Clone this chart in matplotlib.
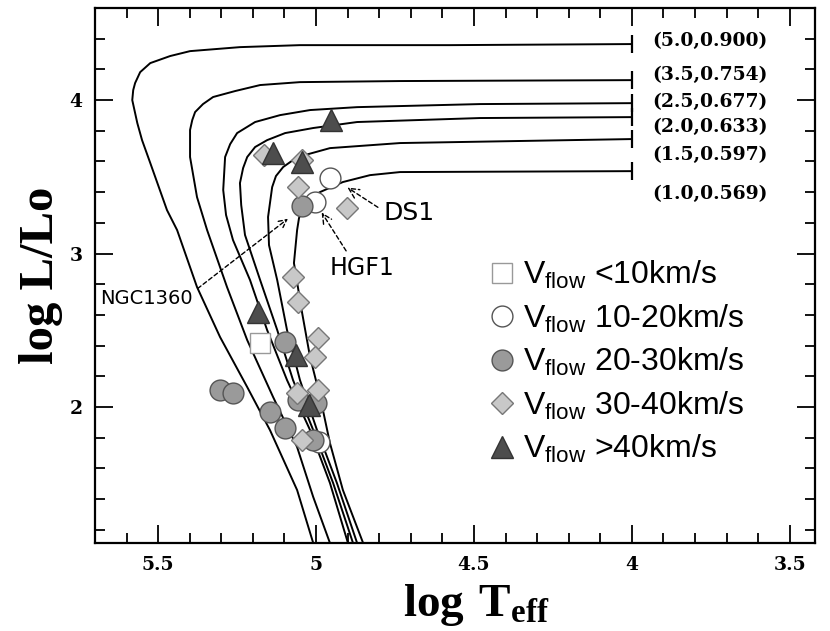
import matplotlib
matplotlib.use("Agg")
import matplotlib.pyplot as plt
from matplotlib.ticker import MultipleLocator

plt.rcParams['mathtext.fontset'] = 'custom'
plt.rcParams['mathtext.rm'] = 'Liberation Sans'
plt.rcParams['mathtext.bf'] = 'Liberation Serif:bold'

# evolutionary tracks (M_initial, M_core): log Teff, log L
track_names = ["(5.0,0.900)", "(3.5,0.754)", "(2.5,0.677)",
               "(2.0,0.633)", "(1.5,0.597)", "(1.0,0.569)"]
track_label_y = [4.384, 4.163, 3.987, 3.824, 3.642, 3.388]

t50_T = [4.00, 4.576, 5.051, 5.241, 5.399, 5.462, 5.525, 5.557, 5.573, 5.579, 5.582,
         5.566, 5.551, 5.525, 5.472, 5.440, 5.377, 5.304, 5.218, 5.146, 5.060, 5.009]
t50_L = [4.365, 4.358, 4.358, 4.345, 4.319, 4.287, 4.241, 4.182, 4.111, 4.065, 4.000,
         3.850, 3.739, 3.590, 3.283, 3.153, 2.782, 2.456, 2.130, 1.850, 1.459, 1.114]

t35_T = [4.00, 4.734, 5.051, 5.177, 5.256, 5.326, 5.358, 5.383, 5.392, 5.399, 5.399,
         5.377, 5.345, 5.282, 5.218, 5.136, 5.060, 5.009, 4.956]
t35_L = [4.130, 4.124, 4.117, 4.098, 4.059, 4.020, 3.974, 3.922, 3.870, 3.805, 3.629,
         3.368, 3.153, 2.782, 2.436, 2.065, 1.739, 1.414, 1.114]

t25_T = [4.00, 4.481, 4.870, 5.019, 5.114, 5.193, 5.250, 5.272, 5.288, 5.294, 5.285,
         5.263, 5.209, 5.155, 5.092, 5.019, 4.956, 4.899]
t25_L = [3.980, 3.974, 3.954, 3.935, 3.902, 3.857, 3.785, 3.713, 3.629, 3.414, 3.251,
         3.088, 2.827, 2.502, 2.176, 1.850, 1.505, 1.114]

t20_T = [4.00, 4.481, 4.870, 5.009, 5.098, 5.155, 5.193, 5.218, 5.231, 5.241, 5.237,
         5.225, 5.177, 5.123, 5.073, 5.009, 4.946, 4.883]
t20_L = [3.889, 3.883, 3.857, 3.818, 3.785, 3.739, 3.694, 3.629, 3.557, 3.459, 3.316,
         3.121, 2.827, 2.502, 2.176, 1.850, 1.505, 1.114]

t15_T = [4.00, 4.734, 4.956, 5.035, 5.073, 5.104, 5.127, 5.139, 5.152, 5.149, 5.123,
         5.092, 5.051, 4.997, 4.934, 4.870]
t15_L = [3.746, 3.720, 3.687, 3.642, 3.609, 3.564, 3.505, 3.433, 3.238, 3.055, 2.827,
         2.502, 2.176, 1.850, 1.505, 1.114]

t10_T = [4.00, 4.734, 4.829, 4.915, 4.987, 5.019, 5.041, 5.054, 5.060, 5.070, 5.044,
         5.019, 4.987, 4.956, 4.915, 4.851]
t10_L = [3.537, 3.531, 3.511, 3.466, 3.401, 3.362, 3.303, 3.231, 3.153, 2.938, 2.612,
         2.326, 2.065, 1.765, 1.459, 1.114]

tracks_T = [t50_T, t35_T, t25_T, t20_T, t15_T, t10_T]
tracks_L = [t50_L, t35_L, t25_L, t20_L, t15_L, t10_L]

# central stars grouped by outflow velocity
v10_T = [5.177]
v10_L = [2.417]
v20_T = [4.956, 5.003, 4.990]
v20_L = [3.492, 3.336, 1.770]
v30_T = [5.304, 5.263, 5.146, 5.098, 5.098, 5.057, 5.000, 5.009, 5.044]
v30_L = [2.111, 2.091, 1.967, 1.863, 2.423, 2.046, 2.026, 1.785, 3.309]
v40_T = [5.165, 5.044, 5.057, 4.902, 5.073, 5.057, 4.994, 5.003, 5.060, 4.994, 5.044]
v40_L = [3.642, 3.609, 3.433, 3.296, 2.847, 2.684, 2.450, 2.326, 2.091, 2.111, 1.785]
vhi_T = [4.953, 5.136, 5.044, 5.184, 5.063, 5.022]
vhi_L = [3.870, 3.655, 3.596, 2.619, 2.339, 2.013]

fig = plt.figure(figsize=(8.3, 6.31), dpi=100)
ax = fig.add_axes([95 / 830, 88 / 631, 720 / 830, 535 / 631])

for T, L, name, ly in zip(tracks_T, tracks_L, track_names, track_label_y):
    ax.plot(T, L, color='black', lw=1.4, marker='|', markevery=[0], ms=13, mew=1.6, zorder=2)
    ax.text(3.934, ly, name, fontfamily='DejaVu Serif', fontweight='bold',
            fontsize=13.5, va='center', ha='left')

ax.plot(v10_T, v10_L, ls='none', marker='s', ms=14, mfc='white', mec='#999999', mew=1.0,
        label=r'$\mathrm{V_{flow}}$ <10km/s', zorder=3)
ax.plot(v20_T, v20_L, ls='none', marker='o', ms=15, mfc='white', mec='#555555', mew=1.0,
        label=r'$\mathrm{V_{flow}}$ 10-20km/s', zorder=3)
ax.plot(v30_T, v30_L, ls='none', marker='o', ms=15, mfc='#9a9a9a', mec='#555555', mew=1.0,
        label=r'$\mathrm{V_{flow}}$ 20-30km/s', zorder=4)
ax.plot(v40_T, v40_L, ls='none', marker='D', ms=11, mfc='#c8c8c8', mec='#777777', mew=1.0,
        label=r'$\mathrm{V_{flow}}$ 30-40km/s', zorder=5)
ax.plot(vhi_T, vhi_L, ls='none', marker='^', ms=16, mfc='#4d4d4d', mec='#333333', mew=1.0,
        label=r'$\mathrm{V_{flow}}$ >40km/s', zorder=6)

arrow = dict(arrowstyle='->', linestyle=(0, (3, 2)), color='black', lw=1.0)
ax.annotate('DS1', xy=(4.908, 3.440), xytext=(4.788, 3.264), fontsize=18,
            fontfamily='DejaVu Sans', va='center', ha='left',
            arrowprops=dict(arrow, relpos=(0, 0.6)))
ax.annotate('HGF1', xy=(4.987, 3.283), xytext=(4.956, 2.906), fontsize=17,
            fontfamily='DejaVu Sans', va='center', ha='left',
            arrowprops=dict(arrow, relpos=(0.3, 1.0)))
ax.annotate('NGC1360', xy=(5.082, 3.238), xytext=(5.684, 2.710), fontsize=14,
            fontfamily='DejaVu Sans', va='center', ha='left',
            arrowprops=dict(arrow, relpos=(1.0, 0.8)))

ax.set_xlim(5.70, 3.42)
ax.set_ylim(1.114, 4.60)
ax.set_xticks([5.5, 5.0, 4.5, 4.0, 3.5])
ax.set_xticklabels(['5.5', '5', '4.5', '4', '3.5'])
ax.set_yticks([2, 3, 4])
ax.xaxis.set_minor_locator(MultipleLocator(0.1))
ax.yaxis.set_minor_locator(MultipleLocator(0.2))
ax.tick_params(which='both', direction='in', top=True, right=True, width=1.3)
ax.tick_params(which='major', length=13, pad=9)
ax.tick_params(which='minor', length=7)
for lab in ax.get_xticklabels() + ax.get_yticklabels():
    lab.set_fontfamily('DejaVu Serif')
    lab.set_fontweight('bold')
    lab.set_fontsize(13.5)
for sp in ax.spines.values():
    sp.set_linewidth(1.6)

ax.set_xlabel(r'$\mathbf{log\ T_{eff}}$', fontsize=34)
ax.xaxis.set_label_coords(0.53, -0.072)
ax.set_ylabel('log L/Lo', fontsize=35, fontfamily='Liberation Serif', fontweight='bold')
ax.yaxis.set_label_coords(-0.045, 0.5)

leg = ax.legend(loc='upper left', bbox_to_anchor=(0.53, 0.555), frameon=False,
                prop={'family': 'Liberation Sans', 'size': 23}, handlelength=0.8,
                handletextpad=0.25, labelspacing=0.36, borderaxespad=0)

fig.savefig('out.png', dpi=100)
